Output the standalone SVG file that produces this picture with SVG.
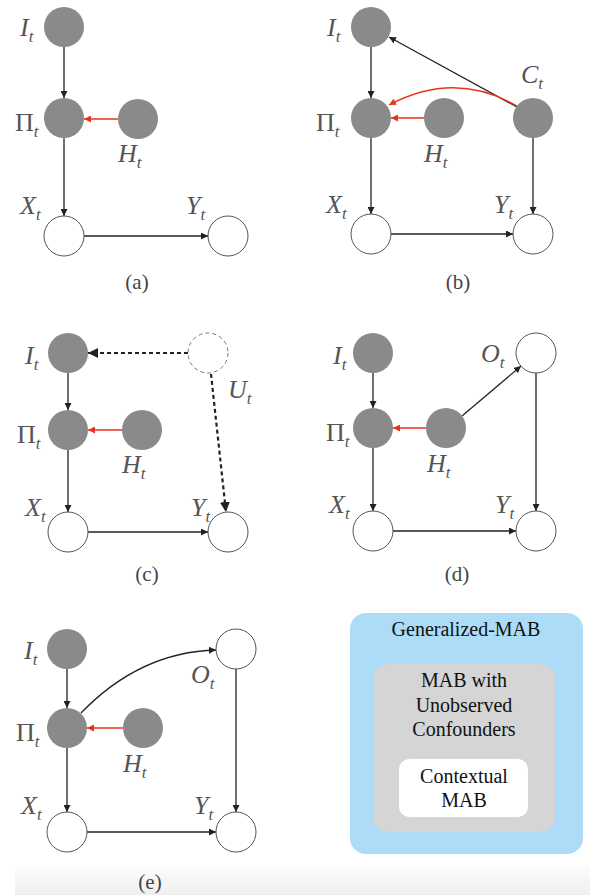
<svg xmlns="http://www.w3.org/2000/svg" width="590" height="895" viewBox="0 0 590 895">
<style>
.f{fill:#8a8a8a;stroke:none}
.o{fill:#fff;stroke:#555;stroke-width:1}
.d{fill:#fff;stroke:#777;stroke-width:1;stroke-dasharray:4 3}
.lb{font-family:"Liberation Serif","Times New Roman",serif;font-style:italic;font-size:26px;fill:#555}
.up{font-style:normal}
.sub{font-size:17px;font-style:italic}
.cap{font-family:"Liberation Serif","Times New Roman",serif;font-size:21px;fill:#444;text-anchor:middle}
.e{fill:none;stroke:#222;stroke-width:1.3;marker-end:url(#ab)}
.r{fill:none;stroke:#e8321e;stroke-width:1.3;marker-end:url(#ar)}
.dash{fill:none;stroke:#222;stroke-width:2.2;stroke-dasharray:4 3;marker-end:url(#ad)}
.bt{font-family:"Liberation Serif","Times New Roman",serif;font-size:20px;fill:#111;text-anchor:middle}
</style>
<defs>
<marker id="ab" viewBox="0 0 10 10" refX="10" refY="5" markerWidth="7" markerHeight="7" markerUnits="userSpaceOnUse" orient="auto"><path d="M0,0L10,5L0,10z" fill="#222"/></marker>
<marker id="ar" viewBox="0 0 10 10" refX="10" refY="5" markerWidth="7" markerHeight="7" markerUnits="userSpaceOnUse" orient="auto"><path d="M0,0L10,5L0,10z" fill="#e8321e"/></marker>
<marker id="ad" viewBox="0 0 10 10" refX="10" refY="5" markerWidth="10" markerHeight="10" markerUnits="userSpaceOnUse" orient="auto"><path d="M0,0L10,5L0,10z" fill="#222"/></marker>
<linearGradient id="bg" x1="0" y1="0" x2="0" y2="1"><stop offset="0" stop-color="#fdfdfd"/><stop offset="1" stop-color="#efefef"/></linearGradient>
</defs>
<rect x="0" y="0" width="590" height="895" fill="#fff"/>
<rect x="15" y="865" width="575" height="30" fill="url(#bg)"/>

<g id="connectors">
<line class="e" x1="64" y1="47" x2="64" y2="98"/>
<line class="r" x1="118" y1="119" x2="84" y2="119"/>
<line class="e" x1="64" y1="138" x2="64" y2="216"/>
<line class="e" x1="84" y1="236" x2="208" y2="236"/>
<line class="e" x1="371" y1="47" x2="371" y2="98"/>
<line class="r" x1="424" y1="118" x2="391" y2="118"/>
<line class="e" x1="517" y1="107" x2="389" y2="37"/>
<path class="r" d="M517,106 Q455,70 389,105"/>
<line class="e" x1="533" y1="138" x2="533" y2="214"/>
<line class="e" x1="371" y1="138" x2="371" y2="214"/>
<line class="e" x1="391" y1="234" x2="513" y2="234"/>
<line class="e" x1="68" y1="373" x2="68" y2="410"/>
<line class="r" x1="122" y1="430" x2="88" y2="430"/>
<line class="e" x1="68" y1="450" x2="68" y2="512"/>
<line class="e" x1="88" y1="532" x2="208" y2="532"/>
<line class="dash" x1="188" y1="353" x2="88" y2="353"/>
<line class="dash" x1="211" y1="374" x2="226" y2="512"/>
<line class="e" x1="373" y1="373" x2="373" y2="408"/>
<line class="r" x1="426" y1="428" x2="393" y2="428"/>
<line class="e" x1="462" y1="416" x2="521" y2="366"/>
<line class="e" x1="536" y1="373" x2="536" y2="511"/>
<line class="e" x1="373" y1="448" x2="373" y2="511"/>
<line class="e" x1="393" y1="531" x2="516" y2="531"/>
<line class="e" x1="67" y1="669" x2="67" y2="708"/>
<line class="r" x1="123" y1="728" x2="87" y2="728"/>
<path class="e" d="M81,713 Q140,652 216,650"/>
<line class="e" x1="236" y1="669" x2="236" y2="812"/>
<line class="e" x1="67" y1="748" x2="67" y2="812"/>
<line class="e" x1="87" y1="832" x2="216" y2="832"/>
</g>

<g id="a_I"><circle class="f" cx="64" cy="27" r="20"/><text class="lb" x="20" y="36">I<tspan class="sub" dy="6">t</tspan></text></g>
<g id="a_Pi"><circle class="f" cx="64" cy="118" r="20"/><text class="lb up" x="15" y="131">Π<tspan class="sub" dy="6">t</tspan></text></g>
<g id="a_H"><circle class="f" cx="138" cy="119" r="20"/><text class="lb" x="118" y="162">H<tspan class="sub" dy="6">t</tspan></text></g>
<g id="a_X"><circle class="o" cx="64" cy="236" r="20"/><text class="lb" x="20" y="214">X<tspan class="sub" dy="6">t</tspan></text></g>
<g id="a_Y"><circle class="o" cx="228" cy="236" r="20"/><text class="lb" x="186" y="214">Y<tspan class="sub" dy="6">t</tspan></text></g>
<text class="cap" x="137" y="289">(a)</text>

<g id="b_I"><circle class="f" cx="371" cy="27" r="20"/><text class="lb" x="327" y="36">I<tspan class="sub" dy="6">t</tspan></text></g>
<g id="b_Pi"><circle class="f" cx="371" cy="118" r="20"/><text class="lb up" x="316" y="131">Π<tspan class="sub" dy="6">t</tspan></text></g>
<g id="b_H"><circle class="f" cx="444" cy="118" r="20"/><text class="lb" x="424" y="162">H<tspan class="sub" dy="6">t</tspan></text></g>
<g id="b_C"><circle class="f" cx="533" cy="118" r="20"/><text class="lb" x="521" y="83">C<tspan class="sub" dy="6">t</tspan></text></g>
<g id="b_X"><circle class="o" cx="371" cy="234" r="20"/><text class="lb" x="326" y="213">X<tspan class="sub" dy="6">t</tspan></text></g>
<g id="b_Y"><circle class="o" cx="533" cy="234" r="20"/><text class="lb" x="494" y="213">Y<tspan class="sub" dy="6">t</tspan></text></g>
<text class="cap" x="458" y="289">(b)</text>

<g id="c_I"><circle class="f" cx="68" cy="353" r="20"/><text class="lb" x="25" y="364">I<tspan class="sub" dy="6">t</tspan></text></g>
<g id="c_Pi"><circle class="f" cx="68" cy="430" r="20"/><text class="lb up" x="17" y="443">Π<tspan class="sub" dy="6">t</tspan></text></g>
<g id="c_H"><circle class="f" cx="142" cy="430" r="20"/><text class="lb" x="122" y="473">H<tspan class="sub" dy="6">t</tspan></text></g>
<g id="c_U"><circle class="d" cx="208" cy="353" r="20"/><text class="lb" x="228" y="398">U<tspan class="sub" dy="6">t</tspan></text></g>
<g id="c_X"><circle class="o" cx="68" cy="532" r="20"/><text class="lb" x="25" y="516">X<tspan class="sub" dy="6">t</tspan></text></g>
<g id="c_Y"><circle class="o" cx="228" cy="532" r="20"/><text class="lb" x="191" y="516">Y<tspan class="sub" dy="6">t</tspan></text></g>
<text class="cap" x="147" y="581">(c)</text>

<g id="d_I"><circle class="f" cx="373" cy="353" r="20"/><text class="lb" x="333" y="364">I<tspan class="sub" dy="6">t</tspan></text></g>
<g id="d_Pi"><circle class="f" cx="373" cy="428" r="20"/><text class="lb up" x="326" y="441">Π<tspan class="sub" dy="6">t</tspan></text></g>
<g id="d_H"><circle class="f" cx="446" cy="428" r="20"/><text class="lb" x="427" y="472">H<tspan class="sub" dy="6">t</tspan></text></g>
<g id="d_O"><circle class="o" cx="536" cy="353" r="20"/><text class="lb" x="481" y="362">O<tspan class="sub" dy="6">t</tspan></text></g>
<g id="d_X"><circle class="o" cx="373" cy="531" r="20"/><text class="lb" x="329" y="513">X<tspan class="sub" dy="6">t</tspan></text></g>
<g id="d_Y"><circle class="o" cx="536" cy="531" r="20"/><text class="lb" x="495" y="513">Y<tspan class="sub" dy="6">t</tspan></text></g>
<text class="cap" x="457" y="581">(d)</text>

<g id="e_I"><circle class="f" cx="67" cy="649" r="20"/><text class="lb" x="24" y="659">I<tspan class="sub" dy="6">t</tspan></text></g>
<g id="e_Pi"><circle class="f" cx="67" cy="728" r="20"/><text class="lb up" x="16" y="741">Π<tspan class="sub" dy="6">t</tspan></text></g>
<g id="e_H"><circle class="f" cx="143" cy="728" r="20"/><text class="lb" x="123" y="772">H<tspan class="sub" dy="6">t</tspan></text></g>
<g id="e_O"><circle class="o" cx="236" cy="649" r="20"/><text class="lb" x="191" y="683">O<tspan class="sub" dy="6">t</tspan></text></g>
<g id="e_X"><circle class="o" cx="67" cy="832" r="20"/><text class="lb" x="21" y="814">X<tspan class="sub" dy="6">t</tspan></text></g>
<g id="e_Y"><circle class="o" cx="236" cy="832" r="20"/><text class="lb" x="194" y="814">Y<tspan class="sub" dy="6">t</tspan></text></g>
<text class="cap" x="150" y="889">(e)</text>

<g id="gen_mab"><rect x="350" y="613" width="233" height="241" rx="16" fill="#acdcf8"/><text class="bt" x="466" y="636">Generalized-MAB</text></g>
<g id="mab_unobs"><rect x="373" y="664" width="182" height="168" rx="15" fill="#d5d5d5"/><text class="bt" x="464" y="687">MAB with</text><text class="bt" x="464" y="712">Unobserved</text><text class="bt" x="464" y="736">Confounders</text></g>
<g id="contextual"><rect x="399" y="759" width="129" height="58" rx="10" fill="#fff"/><text class="bt" x="464" y="783">Contextual</text><text class="bt" x="464" y="807">MAB</text></g>
</svg>
